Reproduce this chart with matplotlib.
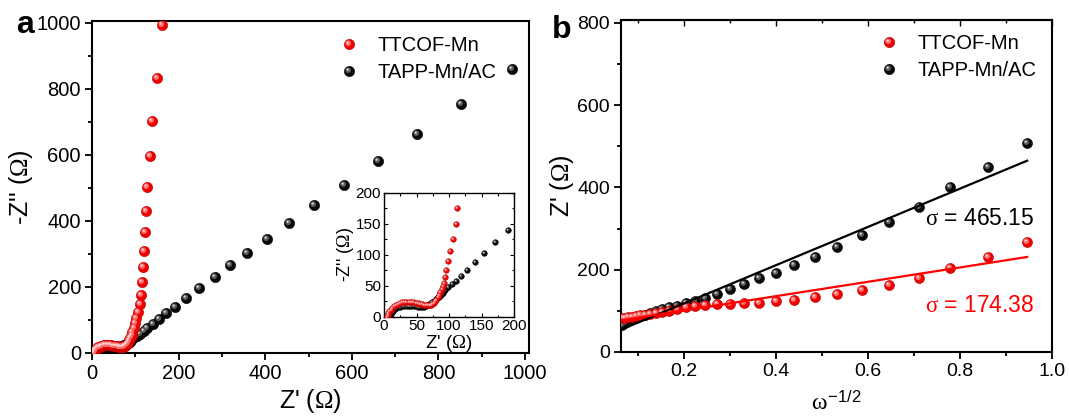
import numpy as np
import matplotlib
matplotlib.use("Agg")
import matplotlib.pyplot as plt
from matplotlib.path import Path
from matplotlib.lines import Line2D
from matplotlib.legend_handler import HandlerTuple
from matplotlib.ticker import MultipleLocator

plt.rcParams["font.family"] = ["Liberation Sans", "DejaVu Sans"]
plt.rcParams["mathtext.fontset"] = "custom"
plt.rcParams["mathtext.rm"] = "Liberation Serif"
plt.rcParams["mathtext.it"] = "Liberation Serif"
plt.rcParams["mathtext.sf"] = "Liberation Sans"
plt.rcParams["mathtext.bf"] = "Liberation Serif:bold"

# ---------------- Nyquist data (panel a) ----------------
ttcof_zre = [5, 5.5, 6.5, 8, 10, 12.5, 15, 18, 21, 24, 27.5, 31, 34.5, 38, 41.5, 45,
             48.5, 52, 55.5, 59, 62, 65, 68, 70.5, 72.5, 74.5, 76.5, 78.5, 80.5, 82.5,
             84.5, 86.5, 88.5, 90.2, 91.8, 93.5, 96, 98.7, 102, 106, 110, 113, 115.6,
             118.8, 120.4, 122, 123.6, 127.6, 133, 139.6, 150, 162.7]
ttcof_zim = [0, 2.5, 5.5, 8.5, 11.5, 14.5, 17, 19.3, 21, 22.3, 23.3, 24, 24.3, 24.3, 24,
             23.4, 22.6, 21.6, 20.6, 19.7, 19, 18.5, 18.3, 18.5, 19.2, 20.4, 22.2, 24.6,
             27.5, 31, 35, 39.5, 44, 49, 55, 64, 76, 90, 106, 125, 149, 176, 214, 260,
             309, 366, 429, 504, 595, 703, 834, 992]

tapp_zre = [9, 9.5, 10.5, 12, 14, 16.5, 19, 22, 25, 28, 31.5, 35, 38.5, 42, 45.5, 49,
            52.5, 56, 59, 62, 64.5, 67, 69.5, 72, 74.5, 77, 79.5, 82, 84.5, 87, 90,
            93.5, 98, 104, 110.6, 119, 128, 140, 154, 170.5, 190.7, 217, 247, 283, 318,
            359, 404, 456, 513.6, 582, 661, 751, 852.5, 970]
tapp_zim = [0, 2.5, 5, 7.5, 10, 12, 13.6, 15, 16, 16.8, 17.3, 17.6, 17.6, 17.4, 17,
            16.6, 16.2, 15.9, 15.9, 16.2, 17, 18.2, 19.8, 21.6, 23.5, 25.6, 27.8, 30,
            32.3, 34.7, 38, 42.5, 47.5, 52.5, 58, 66, 76, 89, 103, 120, 140, 166, 198,
            231, 265, 304, 346, 393, 448, 509, 581, 663, 755, 859]

# ---------------- Warburg plot data (panel b) ----------------
omega_inv_sqrt = [0.065, 0.071, 0.078, 0.086, 0.095, 0.104, 0.115, 0.126, 0.139, 0.153,
                  0.168, 0.185, 0.204, 0.224, 0.246, 0.272, 0.300, 0.330, 0.363, 0.400,
                  0.440, 0.484, 0.532, 0.586, 0.645, 0.711, 0.779, 0.860, 0.946]
ttcof_zre_b = [82, 83, 84.5, 86, 87.5, 89, 91, 93, 95, 97.5, 100.5, 104, 109, 112, 114.5,
               116, 117.8, 119.4, 120, 123.5, 127.5, 134, 141, 150, 164, 180, 203, 231.5,
               266.5]
tapp_zre_b = [65, 70, 75, 79, 83, 87, 91, 95, 99.5, 104, 108.5, 113, 118, 124, 131.6, 142,
              153.5, 166.5, 179, 192.5, 211, 231.5, 255, 283.5, 317, 353, 400, 449, 508]

sigma_ttcof, icpt_ttcof = 174.38, 66.0
sigma_tapp, icpt_tapp = 465.15, 25.0

labels = ["TTCOF-Mn", "TAPP-Mn/AC"]

# ---------------- shaded "ball" markers ----------------
def disc(cx, cy, r):
    frame = Path([[-1, -1], [1, 1]], [Path.MOVETO, Path.MOVETO])
    return Path.make_compound_path(frame, Path.circle((cx, cy), r))

BALL_LAYERS = [disc(0, 0, 1.0), disc(-0.25, 0.25, 0.55), disc(-0.36, 0.36, 0.22)]
RED = ["#f20000", "#ff6a6a", "#ffd6d6"]
BLACK = ["#080808", "#5c5c5c", "#d8d8d8"]
EDGE = {"red": "#b00000", "black": "#000000"}


def balls(ax, x, y, palette, edge, ms, z):
    for i, (path, col) in enumerate(zip(BALL_LAYERS, palette)):
        ax.plot(x, y, ls="none", marker=path, ms=ms, mfc=col,
                mec=edge if i == 0 else "none", mew=0.4 if i == 0 else 0, zorder=z)


def ball_handle(palette, edge, ms):
    return tuple(Line2D([], [], ls="none", marker=path, ms=ms, mfc=col,
                        mec=edge if i == 0 else "none", mew=0.4 if i == 0 else 0)
                 for i, (path, col) in enumerate(zip(BALL_LAYERS, palette)))


def style_axes(ax, labelsize):
    for s in ax.spines.values():
        s.set_linewidth(1.5)
    ax.tick_params(which="both", direction="out", width=1.3, labelsize=labelsize,
                   top=False, right=False, pad=3)
    ax.tick_params(which="major", length=5)
    ax.tick_params(which="minor", length=3)


W, H = 1069, 416
fig = plt.figure(figsize=(W / 100, H / 100), dpi=100)

# ---------------- panel a ----------------
ax_a = fig.add_axes([92 / W, (H - 353) / H, (529 - 92) / W, (353 - 20.7) / H])
balls(ax_a, tapp_zre, tapp_zim, BLACK, EDGE["black"], 7.4, 3)
balls(ax_a, ttcof_zre, ttcof_zim, RED, EDGE["red"], 7.4, 4)
ax_a.set_xlim(0, 1009)
ax_a.set_ylim(0, 1006)
ax_a.xaxis.set_major_locator(MultipleLocator(200))
ax_a.xaxis.set_minor_locator(MultipleLocator(100))
ax_a.yaxis.set_major_locator(MultipleLocator(200))
ax_a.yaxis.set_minor_locator(MultipleLocator(100))
style_axes(ax_a, 14.5)
ax_a.set_xlabel("Z' ($\\Omega$)", fontsize=18, labelpad=3)
ax_a.set_ylabel("-Z'' ($\\Omega$)", fontsize=18, labelpad=1)

h_red = ball_handle(RED, EDGE["red"], 7.4)
h_blk = ball_handle(BLACK, EDGE["black"], 7.4)
leg_kw = dict(handler_map={tuple: HandlerTuple(ndivide=1, pad=0)}, loc="upper left",
              frameon=False, borderpad=0, borderaxespad=0, handlelength=1.0,
              handletextpad=0.9, labelspacing=0.42, numpoints=1, fontsize=14.5)
ax_a.legend([h_red, h_blk], labels, bbox_to_anchor=(0.565, 0.955), **leg_kw)

# inset: high-frequency region
ins = fig.add_axes([384 / W, (H - 316.7) / H, 130 / W, 124 / H])
balls(ins, tapp_zre, tapp_zim, BLACK, EDGE["black"], 4.0, 3)
balls(ins, ttcof_zre, ttcof_zim, RED, EDGE["red"], 4.0, 4)
ins.set_xlim(0, 200)
ins.set_ylim(0, 200)
ins.xaxis.set_major_locator(MultipleLocator(50))
ins.xaxis.set_minor_locator(MultipleLocator(25))
ins.yaxis.set_major_locator(MultipleLocator(50))
ins.yaxis.set_minor_locator(MultipleLocator(25))
for s in ins.spines.values():
    s.set_linewidth(1.0)
ins.tick_params(which="both", direction="in", top=True, right=True, width=0.8,
                labelsize=11, pad=2)
ins.tick_params(which="major", length=3)
ins.tick_params(which="minor", length=1.8)
ins.set_xlabel("Z' ($\\Omega$)", fontsize=13.5, labelpad=0)
ins.set_ylabel("-Z'' ($\\Omega$)", fontsize=13, labelpad=0)

# ---------------- panel b ----------------
ax_b = fig.add_axes([621 / W, (H - 352) / H, (1052 - 621) / W, (352 - 20) / H])
xb = np.asarray(omega_inv_sqrt)
xfit = np.array([xb.min() - 0.002, xb.max()])
ax_b.plot(xfit, sigma_tapp * xfit + icpt_tapp, color="black", lw=1.6, zorder=5)
ax_b.plot(xfit, sigma_ttcof * xfit + icpt_ttcof, color="#ff0000", lw=1.6, zorder=5)
balls(ax_b, xb, tapp_zre_b, BLACK, EDGE["black"], 7.2, 3)
balls(ax_b, xb, ttcof_zre_b, RED, EDGE["red"], 7.2, 4)
ax_b.set_xlim(0.063, 1.0)
ax_b.set_ylim(0, 807)
ax_b.xaxis.set_major_locator(MultipleLocator(0.2))
ax_b.xaxis.set_minor_locator(MultipleLocator(0.1))
ax_b.yaxis.set_major_locator(MultipleLocator(200))
ax_b.yaxis.set_minor_locator(MultipleLocator(100))
style_axes(ax_b, 14)
ax_b.set_xticks([0.2, 0.4, 0.6, 0.8, 1.0])
ax_b.set_xticklabels(["0.2", "0.4", "0.6", "0.8", "1.0"])
# unlabeled inward ticks along the top edge
top_b = ax_b.secondary_xaxis("top")
top_b.xaxis.set_major_locator(MultipleLocator(0.2))
top_b.xaxis.set_minor_locator(MultipleLocator(0.1))
top_b.tick_params(which="both", direction="in", labeltop=False, width=1.0)
top_b.tick_params(which="major", length=4)
top_b.tick_params(which="minor", length=2.5)
top_b.spines["top"].set_linewidth(1.5)

ax_b.set_xlabel("$\\omega^{\\mathsf{-1/2}}$", fontsize=17, labelpad=8)
ax_b.set_ylabel("Z' ($\\Omega$)", fontsize=18, labelpad=1)
ax_b.legend([h_red, h_blk], labels, bbox_to_anchor=(0.599, 0.958), **leg_kw)
ax_b.text(0.958, 0.3825, f"$\\sigma$ = {sigma_tapp:.2f}", transform=ax_b.transAxes,
          ha="right", va="baseline", fontsize=16.5, color="black")
ax_b.text(0.958, 0.1205, f"$\\sigma$ = {sigma_ttcof:.2f}", transform=ax_b.transAxes,
          ha="right", va="baseline", fontsize=16.5, color="#ff0000")

# panel letters
fig.text(16 / W, 1 - 33 / H, "a", fontsize=23, fontweight="bold", ha="left", va="baseline")
fig.text(552 / W, 1 - 38 / H, "b", fontsize=23, fontweight="bold", ha="left", va="baseline")

fig.savefig("out.png", dpi=100)
